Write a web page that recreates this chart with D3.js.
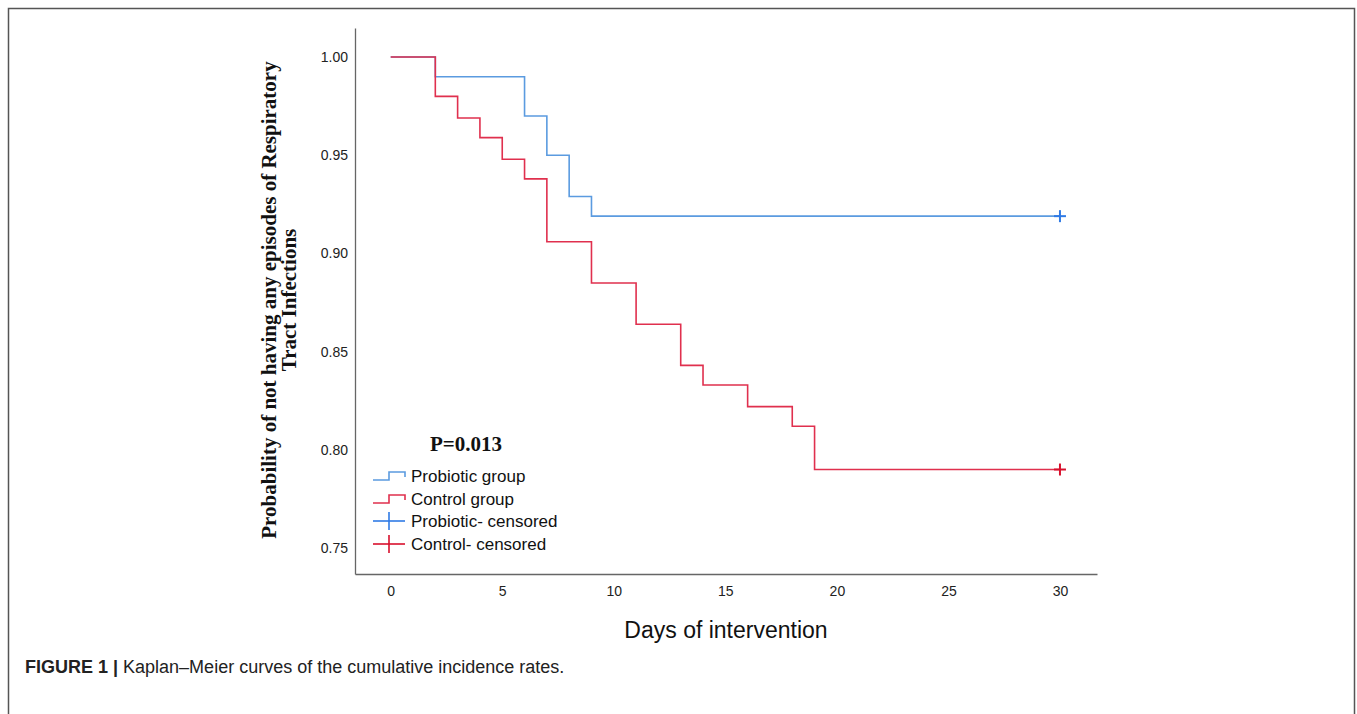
<!DOCTYPE html>
<html>
<head>
<meta charset="utf-8">
<script src="https://cdn.jsdelivr.net/npm/d3@7"></script>
<style>
  body { margin: 0; background: #fff; }
  svg { display: block; }
</style>
</head>
<body>
<div id="chart"></div>
<script>
// data
var probioticDays = [0, 2, 6, 7, 8, 9, 30];
var probioticSurv = [1.0, 0.990, 0.970, 0.950, 0.929, 0.919, 0.919];
var controlDays = [0, 2, 3, 4, 5, 6, 7, 9, 11, 13, 14, 16, 18, 19, 30];
var controlSurv = [1.0, 0.980, 0.969, 0.959, 0.948, 0.938, 0.906, 0.885, 0.864, 0.843, 0.833, 0.822, 0.812, 0.790, 0.790];
var censorDay = 30;
var xTicks = [0, 5, 10, 15, 20, 25, 30];
var yTicks = [0.75, 0.80, 0.85, 0.90, 0.95, 1.00];
var legendLabels = ["Probiotic group", "Control group", "Probiotic- censored", "Control- censored"];

var blueLine = "#5b9be0";
var blueMark = "#2f7ae5";
var redLine = "#e0304e";
var redMark = "#d8102c";

var svgWidth = 1357;
var svgHeight = 714;

var svg = d3.select("#chart").append("svg")
  .attr("width", svgWidth)
  .attr("height", svgHeight);

// outer frame
svg.append("path")
  .attr("d", "M8.5,720 V8.5 H1354.5 V720")
  .attr("fill", "none")
  .attr("stroke", "#555")
  .attr("stroke-width", 1.5);

var plot = { left: 355, right: 1097, top: 28, bottom: 574 };

var x = d3.scaleLinear()
  .domain([-1.6, 31.66])
  .range([plot.left, plot.right]);

var y = d3.scaleLinear()
  .domain([0.7368, 1.0148])
  .range([plot.bottom, plot.top]);

// axes (no tick marks, just the lines and labels)
var xAxis = svg.append("g")
  .attr("transform", `translate(0, ${plot.bottom})`)
  .call(d3.axisBottom(x).tickValues(xTicks).tickSize(0).tickPadding(12).tickFormat(d3.format("d")));
xAxis.select(".domain").attr("stroke", "#666").attr("stroke-width", 1.3);
xAxis.selectAll("text")
  .attr("font-family", "Liberation Sans, Arial, sans-serif")
  .attr("font-size", "14px")
  .attr("fill", "#222");

var yAxis = svg.append("g")
  .attr("transform", `translate(${plot.left}, 0)`)
  .call(d3.axisLeft(y).tickValues(yTicks).tickSize(0).tickPadding(7).tickFormat(d3.format(".2f")));
yAxis.select(".domain").attr("stroke", "#666").attr("stroke-width", 1.3);
yAxis.selectAll("text")
  .attr("font-family", "Liberation Sans, Arial, sans-serif")
  .attr("font-size", "14px")
  .attr("fill", "#222");

// step curves
function stepData(days, surv) {
  return days.map(function(d, i) { return { day: d, s: surv[i] }; });
}

var line = d3.line()
  .x(d => x(d.day))
  .y(d => y(d.s))
  .curve(d3.curveStepAfter);

svg.append("path")
  .datum(stepData(probioticDays, probioticSurv))
  .attr("d", line)
  .attr("fill", "none")
  .attr("stroke", blueLine)
  .attr("stroke-width", 1.6);

svg.append("path")
  .datum(stepData(controlDays, controlSurv))
  .attr("d", line)
  .attr("fill", "none")
  .attr("stroke", redLine)
  .attr("stroke-width", 1.6);

// censored marks
function cross(g, cx, cy, color) {
  g.append("line").attr("x1", cx - 6).attr("x2", cx + 6).attr("y1", cy).attr("y2", cy)
    .attr("stroke", color).attr("stroke-width", 2);
  g.append("line").attr("x1", cx).attr("x2", cx).attr("y1", cy - 6).attr("y2", cy + 6)
    .attr("stroke", color).attr("stroke-width", 2);
}
cross(svg, x(censorDay), y(probioticSurv[probioticSurv.length - 1]), blueMark);
cross(svg, x(censorDay), y(controlSurv[controlSurv.length - 1]), redMark);

// p value
svg.append("text")
  .attr("x", 466)
  .attr("y", 451)
  .attr("text-anchor", "middle")
  .attr("font-family", "Liberation Serif, Times New Roman, serif")
  .attr("font-weight", "bold")
  .attr("font-size", "21px")
  .attr("fill", "#111")
  .text("P=0.013");

// legend
var legend = svg.append("g").attr("transform", "translate(373, 0)");
var legendY = [476, 499, 521, 544];
var legendColors = [blueLine, redLine, blueMark, redMark];

legendLabels.forEach(function(label, i) {
  var ly = legendY[i];
  var c = legendColors[i];
  if (i < 2) {
    legend.append("path")
      .attr("d", `M0,${ly + 4} H16 V${ly - 4} H32 V${ly + 1}`)
      .attr("fill", "none")
      .attr("stroke", c)
      .attr("stroke-width", 1.6);
  } else {
    legend.append("line").attr("x1", 0).attr("x2", 32).attr("y1", ly).attr("y2", ly)
      .attr("stroke", c).attr("stroke-width", 1.6);
    legend.append("line").attr("x1", 16).attr("x2", 16).attr("y1", ly - 9).attr("y2", ly + 9)
      .attr("stroke", c).attr("stroke-width", 1.6);
  }
  legend.append("text")
    .attr("x", 38)
    .attr("y", ly + 6)
    .attr("font-family", "Liberation Sans, Arial, sans-serif")
    .attr("font-size", "17px")
    .attr("fill", "#111")
    .text(label);
});

// y axis title
var yTitle = svg.append("text")
  .attr("transform", "translate(276, 300) rotate(-90)")
  .attr("text-anchor", "middle")
  .attr("font-family", "Liberation Serif, Times New Roman, serif")
  .attr("font-weight", "bold")
  .attr("font-size", "21px")
  .attr("fill", "#111");
yTitle.append("tspan").attr("x", 0).attr("dy", 0)
  .text("Probability of not having any episodes of Respiratory");
yTitle.append("tspan").attr("x", 0).attr("dy", "0.95em")
  .text("Tract Infections");

// x axis title
svg.append("text")
  .attr("x", 726)
  .attr("y", 638)
  .attr("text-anchor", "middle")
  .attr("font-family", "Liberation Sans, Arial, sans-serif")
  .attr("font-size", "23px")
  .attr("fill", "#111")
  .text("Days of intervention");

// caption
var caption = svg.append("text")
  .attr("x", 25)
  .attr("y", 673)
  .attr("font-family", "Liberation Sans Narrow, Liberation Sans, Arial, sans-serif")
  .attr("font-size", "18px")
  .attr("fill", "#222");
caption.append("tspan").attr("font-weight", "bold").text("FIGURE 1 | ");
caption.append("tspan").text("Kaplan\u2013Meier curves of the cumulative incidence rates.");
</script>
</body>
</html>
